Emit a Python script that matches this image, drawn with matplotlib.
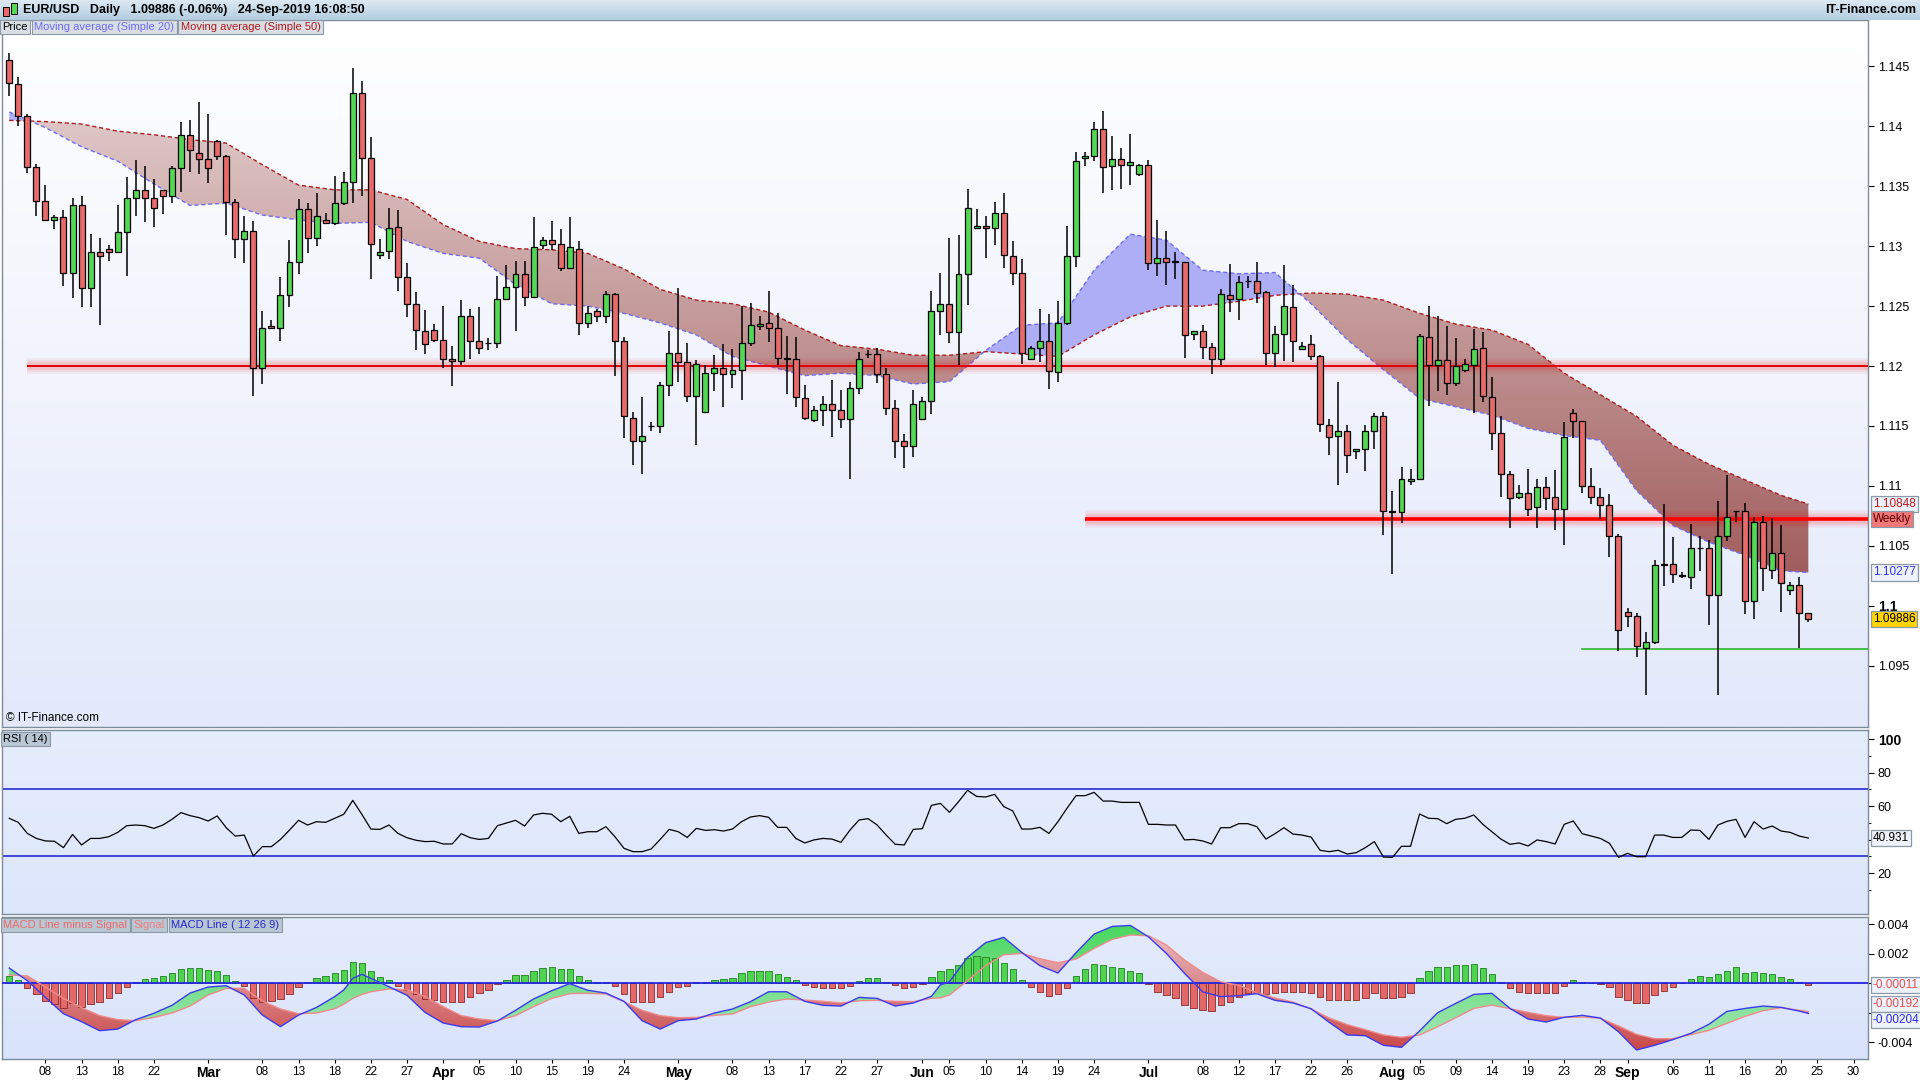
import numpy as np
import pandas as pd
import matplotlib
matplotlib.use('Agg')
import matplotlib.pyplot as plt
import matplotlib.transforms as mtransforms
from matplotlib.colors import LinearSegmentedColormap
from matplotlib.path import Path
from matplotlib.patches import PathPatch, Rectangle
from matplotlib.ticker import FixedLocator, FuncFormatter

plt.rcParams['font.family'] = ['Liberation Sans', 'DejaVu Sans']

# ---------------- data (EUR/USD daily, Sun-Fri sessions) ----------------
first_session = '2019-02-04'
last_axis_day = '2019-10-01'

opens = [1.1455, 1.1435, 1.1409, 1.1366, 1.1338, 1.1322, 1.1324, 1.1278, 1.1334, 1.1265,
         1.1295, 1.1298, 1.1295, 1.1312, 1.1340, 1.1347, 1.1340, 1.1347, 1.1342, 1.1365,
         1.1393, 1.1378, 1.1373, 1.1388, 1.1375, 1.1337, 1.1306, 1.1313, 1.1198, 1.1233,
         1.1232, 1.1259, 1.1287, 1.1331, 1.1307, 1.1322, 1.1319, 1.1336, 1.1354, 1.1428,
         1.1374, 1.1293, 1.1296, 1.1316, 1.1274, 1.1252, 1.1229, 1.1230, 1.1222, 1.1206,
         1.1204, 1.1242, 1.1221, 1.1219, 1.1219, 1.1256, 1.1266, 1.1277, 1.1258, 1.1301,
         1.1305, 1.1302, 1.1282, 1.1298, 1.1236, 1.1246, 1.1242, 1.1260, 1.1221, 1.1157,
         1.1137, 1.1150, 1.1150, 1.1184, 1.1211, 1.1203, 1.1175, 1.1162, 1.1194, 1.1198,
         1.1193, 1.1197, 1.1219, 1.1233, 1.1236, 1.1232, 1.1206, 1.1206, 1.1173, 1.1155,
         1.1163, 1.1168, 1.1163, 1.1156, 1.1182, 1.1210, 1.1210, 1.1193, 1.1165, 1.1137,
         1.1133, 1.1156, 1.1171, 1.1246, 1.1252, 1.1228, 1.1277, 1.1315, 1.1317, 1.1315,
         1.1328, 1.1292, 1.1278, 1.1206, 1.1215, 1.1221, 1.1195, 1.1236, 1.1292, 1.1374,
         1.1375, 1.1398, 1.1367, 1.1373, 1.1368, 1.1360, 1.1368, 1.1286, 1.1290, 1.1287,
         1.1287, 1.1227, 1.1229, 1.1216, 1.1206, 1.1259, 1.1256, 1.1271, 1.1271, 1.1262,
         1.1211, 1.1227, 1.1249, 1.1214, 1.1218, 1.1208, 1.1151, 1.1142, 1.1146, 1.1129,
         1.1131, 1.1146, 1.1158, 1.1079, 1.1078, 1.1104, 1.1106, 1.1224, 1.1201, 1.1205,
         1.1186, 1.1197, 1.1201, 1.1215, 1.1174, 1.1144, 1.1110, 1.1091, 1.1094, 1.1082,
         1.1099, 1.1091, 1.1081, 1.1161, 1.1154, 1.1100, 1.1091, 1.1084, 1.1058, 1.0995,
         1.0991, 1.0965, 1.0970, 1.1034, 1.1035, 1.1025, 1.1024, 1.1048, 1.1048, 1.1009,
         1.1058, 1.1079, 1.1079, 1.1004, 1.1070, 1.1030, 1.1044, 1.1013, 1.1017, 1.0994]

highs = [1.1461, 1.1441, 1.1410, 1.1369, 1.1351, 1.1326, 1.1330, 1.1340, 1.1342, 1.1310,
         1.1307, 1.1301, 1.1334, 1.1358, 1.1372, 1.1367, 1.1356, 1.1347, 1.1367, 1.1404,
         1.1405, 1.1420, 1.1410, 1.1389, 1.1376, 1.1339, 1.1325, 1.1321, 1.1246, 1.1238,
         1.1274, 1.1305, 1.1339, 1.1336, 1.1344, 1.1328, 1.1359, 1.1362, 1.1449, 1.1438,
         1.1391, 1.1306, 1.1332, 1.1330, 1.1286, 1.1262, 1.1247, 1.1235, 1.1250, 1.1217,
         1.1255, 1.1248, 1.1249, 1.1223, 1.1275, 1.1284, 1.1288, 1.1288, 1.1324, 1.1308,
         1.1321, 1.1314, 1.1324, 1.1304, 1.1250, 1.1248, 1.1263, 1.1261, 1.1224, 1.1162,
         1.1174, 1.1153, 1.1187, 1.1229, 1.1265, 1.1219, 1.1205, 1.1201, 1.1209, 1.1218,
         1.1214, 1.1250, 1.1253, 1.1242, 1.1263, 1.1244, 1.1225, 1.1224, 1.1184, 1.1167,
         1.1175, 1.1188, 1.1180, 1.1187, 1.1212, 1.1213, 1.1215, 1.1198, 1.1172, 1.1143,
         1.1180, 1.1174, 1.1263, 1.1278, 1.1307, 1.1309, 1.1348, 1.1331, 1.1325, 1.1337,
         1.1344, 1.1304, 1.1289, 1.1217, 1.1248, 1.1243, 1.1254, 1.1317, 1.1379, 1.1379,
         1.1404, 1.1413, 1.1392, 1.1382, 1.1394, 1.1369, 1.1372, 1.1322, 1.1313, 1.1295,
         1.1287, 1.1229, 1.1234, 1.1219, 1.1264, 1.1285, 1.1275, 1.1275, 1.1287, 1.1263,
         1.1233, 1.1284, 1.1268, 1.1220, 1.1226, 1.1209, 1.1156, 1.1187, 1.1151, 1.1131,
         1.1151, 1.1161, 1.1162, 1.1096, 1.1116, 1.1114, 1.1227, 1.1250, 1.1242, 1.1233,
         1.1223, 1.1206, 1.1231, 1.1228, 1.1191, 1.1158, 1.1112, 1.1101, 1.1114, 1.1106,
         1.1107, 1.1113, 1.1153, 1.1164, 1.1154, 1.1115, 1.1098, 1.1093, 1.1060, 1.0998,
         1.0994, 1.0978, 1.1038, 1.1085, 1.1057, 1.1028, 1.1068, 1.1058, 1.1055, 1.1087,
         1.1109, 1.1079, 1.1086, 1.1074, 1.1075, 1.1073, 1.1067, 1.1020, 1.1024, 1.0994]

lows = [1.1425, 1.1400, 1.1361, 1.1325, 1.1321, 1.1314, 1.1267, 1.1257, 1.1249, 1.1249,
        1.1234, 1.1288, 1.1294, 1.1275, 1.1325, 1.1320, 1.1316, 1.1327, 1.1336, 1.1345,
        1.1362, 1.1360, 1.1353, 1.1372, 1.1309, 1.1290, 1.1286, 1.1175, 1.1185, 1.1231,
        1.1221, 1.1249, 1.1277, 1.1294, 1.1300, 1.1319, 1.1318, 1.1334, 1.1336, 1.1342,
        1.1273, 1.1289, 1.1289, 1.1263, 1.1241, 1.1213, 1.1210, 1.1220, 1.1198, 1.1183,
        1.1201, 1.1206, 1.1210, 1.1213, 1.1215, 1.1255, 1.1229, 1.1250, 1.1257, 1.1298,
        1.1297, 1.1279, 1.1282, 1.1226, 1.1232, 1.1237, 1.1236, 1.1192, 1.1140, 1.1117,
        1.1110, 1.1146, 1.1144, 1.1175, 1.1187, 1.1170, 1.1134, 1.1162, 1.1179, 1.1166,
        1.1182, 1.1172, 1.1217, 1.1230, 1.1220, 1.1201, 1.1177, 1.1166, 1.1155, 1.1153,
        1.1150, 1.1141, 1.1148, 1.1106, 1.1177, 1.1207, 1.1186, 1.1159, 1.1123, 1.1115,
        1.1124, 1.1156, 1.1160, 1.1226, 1.1219, 1.1201, 1.1251, 1.1315, 1.1290, 1.1301,
        1.1282, 1.1268, 1.1202, 1.1205, 1.1203, 1.1181, 1.1187, 1.1234, 1.1283, 1.1367,
        1.1371, 1.1344, 1.1347, 1.1348, 1.1351, 1.1359, 1.1280, 1.1275, 1.1268, 1.1273,
        1.1207, 1.1222, 1.1206, 1.1193, 1.1201, 1.1245, 1.1238, 1.1265, 1.1253, 1.1201,
        1.1199, 1.1204, 1.1203, 1.1214, 1.1205, 1.1145, 1.1126, 1.1101, 1.1111, 1.1122,
        1.1112, 1.1131, 1.1059, 1.1026, 1.1069, 1.1101, 1.1106, 1.1167, 1.1179, 1.1176,
        1.1183, 1.1195, 1.1161, 1.1170, 1.1130, 1.1091, 1.1065, 1.1089, 1.1075, 1.1065,
        1.1080, 1.1063, 1.1051, 1.1140, 1.1094, 1.1085, 1.1072, 1.1041, 1.0962, 1.0982,
        1.0957, 1.0925, 1.0968, 1.1016, 1.1019, 1.1023, 1.1014, 1.1029, 1.0984, 1.0925,
        1.1054, 1.1070, 1.0993, 1.0989, 1.1012, 1.1022, 1.0995, 1.1009, 1.0965, 1.0986]

closes = [1.1436, 1.1409, 1.1366, 1.1338, 1.1322, 1.1324, 1.1278, 1.1334, 1.1265, 1.1295,
          1.1292, 1.1295, 1.1312, 1.1340, 1.1347, 1.1340, 1.1332, 1.1342, 1.1365, 1.1393,
          1.1380, 1.1373, 1.1365, 1.1375, 1.1337, 1.1306, 1.1313, 1.1198, 1.1232, 1.1232,
          1.1259, 1.1287, 1.1331, 1.1307, 1.1325, 1.1319, 1.1336, 1.1354, 1.1428, 1.1374,
          1.1302, 1.1295, 1.1315, 1.1274, 1.1252, 1.1230, 1.1218, 1.1222, 1.1206, 1.1204,
          1.1242, 1.1221, 1.1215, 1.1219, 1.1256, 1.1266, 1.1277, 1.1258, 1.1299, 1.1305,
          1.1302, 1.1282, 1.1299, 1.1236, 1.1244, 1.1242, 1.1260, 1.1221, 1.1158, 1.1137,
          1.1142, 1.1150, 1.1184, 1.1211, 1.1203, 1.1175, 1.1202, 1.1194, 1.1198, 1.1193,
          1.1197, 1.1219, 1.1234, 1.1235, 1.1232, 1.1207, 1.1206, 1.1174, 1.1157, 1.1163,
          1.1168, 1.1163, 1.1156, 1.1182, 1.1206, 1.1210, 1.1193, 1.1165, 1.1137, 1.1133,
          1.1168, 1.1171, 1.1246, 1.1252, 1.1228, 1.1277, 1.1332, 1.1317, 1.1315, 1.1328,
          1.1293, 1.1278, 1.1211, 1.1215, 1.1221, 1.1196, 1.1236, 1.1292, 1.1371, 1.1375,
          1.1398, 1.1366, 1.1373, 1.1368, 1.1370, 1.1368, 1.1286, 1.1290, 1.1287, 1.1287,
          1.1226, 1.1229, 1.1216, 1.1206, 1.1260, 1.1256, 1.1270, 1.1271, 1.1261, 1.1211,
          1.1227, 1.1250, 1.1221, 1.1217, 1.1208, 1.1152, 1.1141, 1.1146, 1.1126, 1.1131,
          1.1146, 1.1158, 1.1079, 1.1078, 1.1106, 1.1106, 1.1225, 1.1201, 1.1205, 1.1186,
          1.1200, 1.1202, 1.1214, 1.1175, 1.1144, 1.1110, 1.1090, 1.1094, 1.1081, 1.1099,
          1.1090, 1.1081, 1.1141, 1.1154, 1.1100, 1.1091, 1.1084, 1.1058, 1.0980, 1.0991,
          1.0966, 1.0970, 1.1034, 1.1035, 1.1026, 1.1025, 1.1048, 1.1048, 1.1009, 1.1058,
          1.1074, 1.1079, 1.1004, 1.1070, 1.1031, 1.1044, 1.1019, 1.1017, 1.0994, 1.09886]

# moving averages read every 4th session
ma_sessions = list(range(0, 200, 4)) + [199]
ma20 = [1.1412, 1.1399, 1.1383, 1.1371, 1.1352, 1.1334, 1.1336, 1.1326, 1.1322, 1.1319,
        1.1320, 1.1304, 1.1294, 1.1290, 1.1268, 1.1252, 1.1250, 1.1244, 1.1236, 1.1226,
        1.1208, 1.1200, 1.1192, 1.1194, 1.1192, 1.1185, 1.1187, 1.1213, 1.1234, 1.1236,
        1.1280, 1.1310, 1.1305, 1.1280, 1.1277, 1.1278, 1.1252, 1.1222, 1.1197, 1.1173,
        1.1166, 1.1159, 1.1148, 1.1142, 1.1138, 1.1096, 1.1067, 1.1053, 1.1042, 1.1029,
        1.10277]
ma50 = [1.1405, 1.1404, 1.1402, 1.1396, 1.1393, 1.1389, 1.1386, 1.1368, 1.1351, 1.1347,
        1.1347, 1.1339, 1.1318, 1.1304, 1.1298, 1.1297, 1.1294, 1.1281, 1.1264, 1.1255,
        1.1252, 1.1245, 1.1230, 1.1217, 1.1214, 1.1209, 1.1209, 1.1212, 1.1210, 1.1208,
        1.1226, 1.1241, 1.1250, 1.1250, 1.1254, 1.1259, 1.1261, 1.1260, 1.1255, 1.1244,
        1.1235, 1.1230, 1.1218, 1.1194, 1.1176, 1.1158, 1.1134, 1.1118, 1.1105, 1.1092,
        1.10848]

# horizontal levels drawn on the chart: (price, first session)
support_1120 = (1.1200, 2)
weekly_level = (1.1072, 119)
green_level = (1.0964, 174)

rsi = [52.7, 50.3, 43.7, 40.7, 39.2, 39.0, 35.2, 43.1, 36.8, 40.7,
       40.7, 41.7, 44.3, 48.3, 48.7, 48.3, 46.7, 48.7, 52.1, 56.1,
       54.3, 53.1, 51.1, 54.1, 47.1, 42.1, 42.7, 30.2, 35.8, 35.8,
       40.1, 45.7, 51.5, 48.7, 50.7, 50.3, 52.7, 55.1, 63.4, 55.1,
       46.3, 46.1, 48.7, 43.7, 41.1, 39.6, 38.8, 39.0, 37.4, 37.4,
       43.5, 41.1, 40.1, 40.7, 48.3, 49.9, 51.5, 48.1, 54.7, 55.7,
       55.1, 50.7, 53.9, 43.7, 44.7, 44.7, 47.7, 41.7, 34.8, 32.8,
       32.8, 34.4, 40.1, 46.1, 44.7, 41.3, 46.7, 45.5, 45.9, 45.1,
       46.3, 50.7, 53.5, 54.3, 53.3, 47.3, 47.3, 40.7, 38.0, 39.8,
       40.7, 40.3, 38.4, 45.7, 51.7, 52.5, 48.7, 42.7, 37.2, 36.8,
       46.1, 46.5, 60.4, 61.6, 56.3, 62.6, 69.4, 65.8, 65.4, 67.0,
       59.7, 57.1, 46.3, 46.3, 47.3, 43.7, 50.7, 58.7, 66.2, 66.2,
       68.2, 63.0, 63.0, 62.2, 62.2, 62.2, 49.1, 49.1, 48.7, 48.7,
       39.8, 40.1, 39.2, 37.4, 47.1, 47.1, 49.5, 49.5, 47.7, 40.3,
       43.5, 47.1, 43.3, 42.7, 41.5, 33.6, 32.8, 33.6, 31.4, 32.2,
       35.2, 38.8, 29.6, 29.4, 36.0, 36.0, 55.3, 52.7, 52.5, 49.5,
       52.1, 52.7, 54.7, 49.1, 44.7, 40.3, 37.2, 38.0, 36.2, 39.8,
       38.8, 37.4, 49.1, 51.1, 43.5, 42.1, 40.7, 37.8, 29.4, 31.8,
       29.8, 29.8, 42.7, 42.7, 41.3, 41.3, 45.7, 45.5, 40.1, 48.7,
       50.9, 52.1, 41.3, 50.7, 46.3, 48.1, 45.1, 44.3, 42.1, 40.931]

macd_sessions = [0, 2, 4, 6, 8, 10, 12, 14, 16, 18, 20, 22, 24, 26, 28, 30, 32, 34, 36, 37,
                 38, 39, 40, 42, 44, 46, 48, 50, 52, 54, 56, 58, 60, 62, 63, 64, 66, 68, 70, 72,
                 74, 76, 78, 80, 82, 84, 86, 88, 90, 92, 94, 96, 98, 100, 102, 103, 104, 106, 108, 110,
                 112, 114, 116, 118, 120, 122, 124, 126, 128, 130, 132, 134, 136, 138, 140, 142, 144, 146, 148, 150,
                 152, 154, 156, 158, 160, 162, 164, 166, 168, 170, 172, 174, 176, 178, 180, 182, 184, 186, 188, 190,
                 192, 194, 196, 198, 199]
macd_line = [0.00104, 0.00018, -0.00095, -0.00206, -0.0026, -0.00321, -0.0031, -0.00246, -0.00203, -0.00149,
             -0.00066, -0.00025, -0.00016, -0.00079, -0.00215, -0.00294, -0.00215, -0.00163, -0.0009, -0.00045,
             0.00034, 0.00061, 0.00034, -0.00023, -0.00081, -0.00197, -0.00269, -0.00294, -0.00296, -0.00255,
             -0.00183, -0.00106, -0.0005, -0.00002, -0.00025, -0.00047, -0.00066, -0.00122, -0.00253, -0.0031,
             -0.00253, -0.00242, -0.00201, -0.00174, -0.00124, -0.00057, -0.00057, -0.00122, -0.00149, -0.00154,
             -0.00095, -0.00102, -0.00154, -0.00133, -0.00088, -0.0001, 0.00011, 0.00176, 0.00276, 0.00312,
             0.0021, 0.0012, 0.0007, 0.00208, 0.00334, 0.00386, 0.00393, 0.00316, 0.00203, 0.00068,
             -0.00057, -0.0009, -0.00084, -0.0007, -0.00115, -0.00133, -0.00172, -0.00264, -0.0035, -0.00355,
             -0.0042, -0.00434, -0.00323, -0.00199, -0.00136, -0.00075, -0.00068, -0.0017, -0.00242, -0.00262,
             -0.0023, -0.00217, -0.00235, -0.00328, -0.00452, -0.0042, -0.00382, -0.00339, -0.00278, -0.0019,
             -0.0017, -0.00154, -0.00163, -0.00188, -0.00204]
signal_line = [0.00057, 0.0005, -0.00025, -0.00102, -0.00165, -0.00219, -0.00246, -0.00253, -0.00231, -0.00201,
               -0.00154, -0.00079, -0.00034, -0.00034, -0.0012, -0.00174, -0.00206, -0.00201, -0.00172, -0.00142,
               -0.00102, -0.00075, -0.00057, -0.00038, -0.00043, -0.0009, -0.00158, -0.00219, -0.00242, -0.00253,
               -0.00219, -0.00158, -0.00102, -0.0007, -0.00068, -0.00068, -0.00072, -0.00124, -0.00183, -0.00219,
               -0.00233, -0.00231, -0.00217, -0.00208, -0.00158, -0.00127, -0.00106, -0.00113, -0.00122, -0.00133,
               -0.00118, -0.00115, -0.00122, -0.00124, -0.00102, -0.00098, -0.00079, 0.00018, 0.0012, 0.00194,
               0.00203, 0.00167, 0.0014, 0.00165, 0.00237, 0.00298, 0.00328, 0.00323, 0.0026, 0.00158,
               0.00075, 0.00011, -0.00014, -0.00063, -0.00099, -0.00127, -0.00174, -0.00235, -0.0028, -0.00314,
               -0.0035, -0.00366, -0.0035, -0.00294, -0.00233, -0.0017, -0.00147, -0.00172, -0.00197, -0.00219,
               -0.00231, -0.00228, -0.00237, -0.00289, -0.00346, -0.00375, -0.00375, -0.00348, -0.00319, -0.00271,
               -0.00224, -0.00185, -0.00165, -0.00183, -0.00192]

macd_hist = [0.00052, 0.00023, -0.00029, -0.00075, -0.0012, -0.00142, -0.00165, -0.00136, -0.00158, -0.00142,
             -0.00124, -0.00102, -0.00068, -0.00027, 0.00007, 0.00029, 0.00038, 0.00052, 0.00068, 0.00095,
             0.00102, 0.00102, 0.0009, 0.00084, 0.00057, 0.00018, -0.00016, -0.00102, -0.00124, -0.0012,
             -0.00108, -0.00075, -0.00023, 0.00007, 0.00034, 0.00052, 0.00068, 0.0009, 0.00142, 0.00138,
             0.00084, 0.00043, 0.0002, -0.00016, -0.00047, -0.00075, -0.00106, -0.00115, -0.00124, -0.00124,
             -0.00124, -0.0009, -0.00063, -0.00047, -0.00007, 0.0002, 0.00057, 0.00057, 0.00084, 0.00102,
             0.00108, 0.00095, 0.00095, 0.00047, 0.0002, 0.00007, 0.00007, -0.00018, -0.00075, -0.00124,
             -0.00129, -0.00124, -0.0009, -0.00057, -0.00027, -0.00018, 0.00007, 0.00011, 0.0002, 0.00029,
             0.00038, 0.00068, 0.00084, 0.00084, 0.00084, 0.00061, 0.00045, 0.0002, -0.00011, -0.00027,
             -0.00029, -0.00034, -0.00029, -0.00018, 0.00016, 0.00034, 0.00034, 0.00011, -0.00011, -0.00034,
             -0.00023, -0.00007, 0.00045, 0.00086, 0.00095, 0.00124, 0.0017, 0.00185, 0.00176, 0.0017,
             0.00136, 0.00095, 0.00023, -0.00027, -0.00057, -0.00086, -0.00075, -0.00034, 0.00047, 0.00095,
             0.00129, 0.00124, 0.00113, 0.00102, 0.00084, 0.00068, -0.00007, -0.00057, -0.00079, -0.00102,
             -0.00147, -0.0017, -0.00181, -0.00188, -0.00147, -0.00124, -0.0009, -0.00063, -0.00057, -0.00075,
             -0.00068, -0.00057, -0.00057, -0.00057, -0.00063, -0.0009, -0.00115, -0.00115, -0.00115, -0.00115,
             -0.00102, -0.00068, -0.00097, -0.00102, -0.0009, -0.00063, 0.00034, 0.00084, 0.00108, 0.00108,
             0.00124, 0.00124, 0.00129, 0.00102, 0.00061, 0.00007, -0.00029, -0.00057, -0.00068, -0.00068,
             -0.00068, -0.00063, -0.00016, 0.0002, 0.00011, 0.00002, -0.00007, -0.00027, -0.0009, -0.00113,
             -0.00131, -0.00136, -0.00079, -0.0005, -0.00023, 0.00002, 0.00027, 0.0005, 0.00041, 0.00061,
             0.00086, 0.00108, 0.00068, 0.00079, 0.00068, 0.00061, 0.00043, 0.00029, 0.00011, -0.00011]

tick_days = ['2019-02-08', '2019-02-13', '2019-02-18', '2019-02-22', '2019-03-01', '2019-03-08',
             '2019-03-13', '2019-03-18', '2019-03-22', '2019-03-27', '2019-04-01', '2019-04-05',
             '2019-04-10', '2019-04-15', '2019-04-19', '2019-04-24', '2019-05-01', '2019-05-08',
             '2019-05-13', '2019-05-17', '2019-05-22', '2019-05-27', '2019-06-02', '2019-06-05',
             '2019-06-10', '2019-06-14', '2019-06-19', '2019-06-24', '2019-07-01', '2019-07-08',
             '2019-07-12', '2019-07-17', '2019-07-22', '2019-07-26', '2019-08-01', '2019-08-05',
             '2019-08-09', '2019-08-14', '2019-08-19', '2019-08-23', '2019-08-28', '2019-09-01',
             '2019-09-06', '2019-09-11', '2019-09-16', '2019-09-20', '2019-09-25', '2019-09-30']

# ---------------- helpers ----------------
W, H = 1920, 1080


def fx(px):
    return px / W


def fy(py):
    return 1 - py / H


def vgradient(ax, bottom, top, zorder=-10):
    cmap = LinearSegmentedColormap.from_list('bg', [bottom, top])
    ax.imshow(np.linspace(0, 1, 256).reshape(-1, 1), cmap=cmap, aspect='auto', origin='lower',
              extent=(0, 1, 0, 1), transform=ax.transAxes, zorder=zorder, interpolation='bilinear')


def gradient_fill(ax, xs, y1, y2, where, bottom, top, ylim, zorder):
    coll = ax.fill_between(xs, y1, y2, where=where, interpolate=True,
                           facecolor='none', edgecolor='none')
    paths = coll.get_paths()
    if not paths:
        return
    patch = PathPatch(Path.make_compound_path(*paths), transform=ax.transData,
                      facecolor='none', edgecolor='none')
    cmap = LinearSegmentedColormap.from_list('fill', [bottom, top])
    im = ax.imshow(np.linspace(0, 1, 256).reshape(-1, 1), cmap=cmap, aspect='auto', origin='lower',
                   extent=(xs[0], xs[-1], ylim[0], ylim[1]), zorder=zorder, interpolation='bilinear')
    im.set_clip_path(patch)


def glow_line(ax, y, x0, x1, color, lw):
    for w, a in [(lw + 10, 0.05), (lw + 7, 0.07), (lw + 4, 0.10)]:
        ax.plot([x0, x1], [y, y], color=color, lw=w, alpha=a, solid_capstyle='butt', zorder=5)
    ax.plot([x0, x1], [y, y], color=color, lw=lw, solid_capstyle='butt', zorder=5)


def side_box(ax, y, text, fg, bg, transform=None):
    tr = transform or mtransforms.blended_transform_factory(ax.transAxes, ax.transData)
    ax.text(1.0025, y, text, transform=tr, ha='left', va='center', fontsize=8.5, color=fg,
            clip_on=False, zorder=20,
            bbox=dict(boxstyle='square,pad=0.18', fc=bg, ec='#8a98a8', lw=0.9))


def box_row(fig, items, x0_px, y_px, size, bg):
    # legend-style boxes laid side by side, each starting where the previous ends
    renderer = fig.canvas.get_renderer()
    pad = 0.22 * size * fig.dpi / 72.0
    xpos = x0_px + pad
    for txt, col in items:
        t = fig.text(fx(xpos), fy(y_px), txt, color=col, fontsize=size, ha='left', va='center',
                     zorder=20, bbox=dict(boxstyle='square,pad=0.22', fc=bg, ec='#8c98a6', lw=0.8))
        bb = t.get_window_extent(renderer)
        xpos = bb.x1 + 2 * pad + 1.5


# ---------------- session axis ----------------
days = pd.date_range(first_session, last_axis_day)
days = days[days.dayofweek != 5]          # FX sessions Sunday..Friday
day_pos = {d.strftime('%Y-%m-%d'): i for i, d in enumerate(days)}
month_first = set(pd.Series(days).groupby(days.to_period('M')).min().dt.strftime('%Y-%m-%d'))

o = np.array(opens)
hi = np.array(highs)
lo = np.array(lows)
c = np.array(closes)
x = np.arange(len(c))
XL = (-0.8, 205.6)

fig = plt.figure(figsize=(19.2, 10.8), dpi=100)
fig.patch.set_facecolor('white')

ax_p = fig.add_axes([fx(2), fy(727), fx(1866), (727 - 20) / H])
ax_r = fig.add_axes([fx(2), fy(914), fx(1866), (914 - 730) / H])
ax_m = fig.add_axes([fx(2), fy(1059), fx(1866), (1059 - 917) / H])

# ---------------- price panel ----------------
PY = (1.08987, 1.14888)
vgradient(ax_p, '#e3e9fb', '#ffffff')

ms = np.array(ma_sessions)
m20 = np.array(ma20)
m50 = np.array(ma50)
gradient_fill(ax_p, ms, m20, m50, m50 >= m20, '#8d3a3a', '#ecdede', PY, 1)
ax_p.fill_between(ms, m20, m50, where=m20 > m50, interpolate=True, color='#aeaef7', lw=0, zorder=1)
ax_p.plot(ms, m50, color='#b01c1c', lw=1.0, ls=(0, (3, 2)), zorder=2)
ax_p.plot(ms, m20, color='#6c6cf4', lw=1.0, ls=(0, (3, 2)), zorder=2)

glow_line(ax_p, support_1120[0], support_1120[1], XL[1], '#e00000', 1.4)
glow_line(ax_p, weekly_level[0], weekly_level[1], XL[1], '#ff0000', 2.6)
ax_p.plot([green_level[1], XL[1]], [green_level[0]] * 2, color='#2fb52f', lw=1.2, zorder=5)

ax_p.vlines(x, lo, hi, color='black', lw=1.1, zorder=6)
body_col = np.where(c > o, '#52d852', '#e86a6a')
ax_p.bar(x, np.maximum(np.abs(c - o), 0.00003), bottom=np.minimum(o, c), width=0.66,
         color=body_col, edgecolor='black', linewidth=0.9, zorder=7)

ax_p.set_xlim(*XL)
ax_p.set_ylim(*PY)
ax_p.yaxis.tick_right()
pticks = np.round(np.arange(1.095, 1.1451, 0.005), 3)
ax_p.yaxis.set_major_locator(FixedLocator(pticks))
ax_p.yaxis.set_major_formatter(FuncFormatter(lambda v, p: '%g' % round(v, 4)))
ax_p.tick_params(axis='y', direction='out', length=4, pad=3, labelsize=9, colors='black')
ax_p.tick_params(axis='x', bottom=False, labelbottom=False)
for lab in ax_p.get_yticklabels():
    if lab.get_text() == '1.1':
        lab.set_fontweight('bold')
        lab.set_fontsize(10)

side_box(ax_p, ma50[-1], '%.5f' % ma50[-1], '#c01a1a', '#eef2fa')
side_box(ax_p, weekly_level[0], 'Weekly', '#5a0000', '#f07878')
side_box(ax_p, ma20[-1], '%.5f' % ma20[-1], '#3434f0', '#eef2fa')
side_box(ax_p, closes[-1], '%.5f' % closes[-1], 'black', '#ffd400')
ax_p.text(0.002, 0.004, '\u00a9 IT-Finance.com', transform=ax_p.transAxes, fontsize=8.5,
          ha='left', va='bottom', zorder=20)

# ---------------- RSI panel ----------------
RY = (-4.4, 105.4)
vgradient(ax_r, '#dde6fb', '#e6edfd')
ax_r.axhline(70, color='#2b2bd2', lw=1.2, zorder=2)
ax_r.axhline(30, color='#2b2bd2', lw=1.2, zorder=2)
ax_r.plot(x, rsi, color='black', lw=0.9, zorder=3)
ax_r.set_xlim(*XL)
ax_r.set_ylim(*RY)
ax_r.yaxis.tick_right()
ax_r.yaxis.set_major_locator(FixedLocator([20, 40, 60, 80, 100]))
ax_r.yaxis.set_minor_locator(FixedLocator([10, 30, 50, 70, 90]))
# the 40 label sits under the current-value box
ax_r.yaxis.set_major_formatter(FuncFormatter(lambda v, p: '' if v == 40 else '%d' % v))
ax_r.tick_params(axis='y', which='major', direction='out', length=4, pad=3, labelsize=9)
ax_r.tick_params(axis='y', which='minor', direction='out', length=2)
ax_r.tick_params(axis='x', bottom=False, labelbottom=False)
for lab in ax_r.get_yticklabels():
    if lab.get_text() == '100':
        lab.set_fontweight('bold')
        lab.set_fontsize(10)
side_box(ax_r, rsi[-1], '%.3f' % rsi[-1], 'black', '#eef2fa')

# ---------------- MACD panel ----------------
MY = (-0.00513, 0.0045)
vgradient(ax_m, '#d9e3fa', '#e4ebfc')
mx = np.array(macd_sessions)
ml = np.array(macd_line)
sl = np.array(signal_line)
gradient_fill(ax_m, mx, ml, sl, ml >= sl, '#aee9c0', '#44d65a', MY, 1)
gradient_fill(ax_m, mx, ml, sl, ml < sl, '#c84040', '#eccad0', MY, 1)
hv = np.array(macd_hist)
ax_m.bar(x, hv, width=0.7, color=np.where(hv >= 0, '#4fd44f', '#e46868'),
         edgecolor=np.where(hv >= 0, '#1f7f1f', '#8c2a2a'), linewidth=0.6, zorder=3)
ax_m.axhline(0, color='#2424e0', lw=1.3, zorder=3.5)
ax_m.plot(mx, sl, color='#f08a8a', lw=1.0, zorder=4)
ax_m.plot(mx, ml, color='#3a3af2', lw=1.0, zorder=4.5)
ax_m.set_xlim(*XL)
ax_m.set_ylim(*MY)
ax_m.yaxis.tick_right()
ax_m.yaxis.set_major_locator(FixedLocator([-0.004, -0.002, 0, 0.002, 0.004]))
ax_m.yaxis.set_major_formatter(FuncFormatter(lambda v, p: '%g' % round(v, 4) if abs(v) > 0.003 or v > 0.001 else ''))
ax_m.tick_params(axis='y', direction='out', length=4, pad=3, labelsize=9)
side_box(ax_m, macd_hist[-1], '%.5f' % macd_hist[-1], '#e05050', '#eef2fa')
tr_m = mtransforms.blended_transform_factory(ax_m.transAxes, ax_m.transAxes)
side_box(ax_m, 0.385, '%.5f' % signal_line[-1], '#e05050', '#eef2fa', transform=tr_m)
side_box(ax_m, 0.275, '%.5f' % macd_line[-1], '#2a2ae8', '#eef2fa', transform=tr_m)

tpos = [day_pos[d] for d in tick_days]
tlab = [pd.Timestamp(d).strftime('%b') if d in month_first else pd.Timestamp(d).strftime('%d')
        for d in tick_days]
ax_m.set_xticks(tpos)
ax_m.set_xticklabels(tlab)
ax_m.tick_params(axis='x', direction='out', length=3, pad=2, labelsize=8.5)
for lab in ax_m.get_xticklabels():
    if not lab.get_text().isdigit():
        lab.set_fontweight('bold')
        lab.set_fontsize(10)

for ax in (ax_p, ax_r, ax_m):
    for s in ax.spines.values():
        s.set_color('#7d8c9b')
        s.set_linewidth(1.0)

# ---------------- header ----------------
ax_h = fig.add_axes([0, fy(20), 1, 20 / H])
ax_h.set_axis_off()
vgradient(ax_h, '#b2cde0', '#dde9f3')
ax_h.set_xlim(0, 1)
ax_h.set_ylim(0, 1)
fig.add_artist(Rectangle((fx(3), fy(16)), fx(6), 9 / H, transform=fig.transFigure,
                         fc='#e86a6a', ec='black', lw=0.7))
fig.add_artist(Rectangle((fx(11), fy(14)), fx(6), 11 / H, transform=fig.transFigure,
                         fc='#52d852', ec='black', lw=0.7))
fig.text(fx(23), fy(10), 'EUR/USD   Daily   1.09886 (-0.06%)   24-Sep-2019 16:08:50',
         fontsize=9, fontweight='bold', ha='left', va='center')
fig.text(fx(1916), fy(10), 'IT-Finance.com', fontsize=9, fontweight='bold', ha='right', va='center')

box_row(fig, [('Price', 'black'), ('Moving average (Simple 20)', '#6c6cf4'),
              ('Moving average (Simple 50)', '#b01c1c')], 0, 27, 8, '#d9dee6')
box_row(fig, [('RSI ( 14)', 'black')], 1, 739, 8, '#b9c6d3')
box_row(fig, [('MACD Line minus Signal', '#ee6a6a'), ('Signal', '#ee8080'),
              ('MACD Line ( 12 26 9)', '#2828d4')], 1, 925, 8, '#b9c6d3')

fig.savefig('out.png', dpi=100, facecolor='white')
